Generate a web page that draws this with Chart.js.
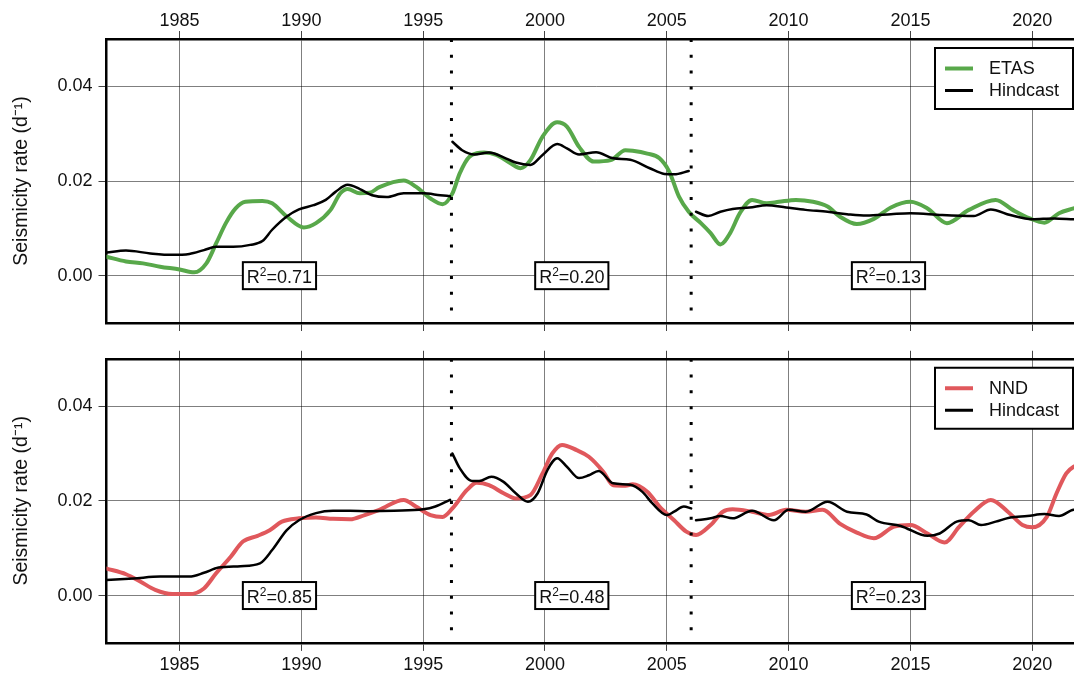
<!DOCTYPE html>
<html>
<head>
<meta charset="utf-8">
<script src="https://cdn.jsdelivr.net/npm/chart.js@4/dist/chart.umd.min.js"></script>
<style>
  html, body { margin: 0; padding: 0; background: #fff; overflow: hidden; width: 1074px; height: 675px; }
  .panel { position: absolute; left: 0; width: 1100px; }
  #wrapTop { top: 0; height: 340px; }
  #wrapBot { top: 340px; height: 335px; }
</style>
</head>
<body>
<div class="panel" id="wrapTop"><canvas id="chartTop"></canvas></div>
<div class="panel" id="wrapBot"><canvas id="chartBot"></canvas></div>
<script>
// ---- data: [year, rate (per day)] ----
const etasRate = [[1982.0,0.0040],[1982.8,0.0030],[1983.5,0.0026],[1984.2,0.0019],[1985.0,0.0013],[1985.6,0.0007],[1986.1,0.0026],[1986.5,0.0068],[1986.9,0.0111],[1987.3,0.0142],[1987.7,0.0156],[1988.4,0.0158],[1988.8,0.0153],[1989.4,0.0125],[1990.1,0.0102],[1990.6,0.0111],[1991.2,0.0139],[1991.6,0.0174],[1991.9,0.0183],[1992.4,0.0174],[1992.8,0.0175],[1993.2,0.0187],[1994.2,0.0201],[1994.7,0.0188],[1995.3,0.0163],[1995.8,0.0151],[1996.2,0.0174],[1996.5,0.0216],[1996.9,0.0251],[1997.5,0.0260],[1998.0,0.0255],[1998.6,0.0237],[1999.0,0.0227],[1999.4,0.0244],[1999.9,0.0294],[2000.5,0.0324],[2000.9,0.0315],[2001.4,0.0272],[2002.0,0.0241],[2002.7,0.0244],[2003.3,0.0265],[2003.6,0.0264],[2004.2,0.0258],[2004.7,0.0248],[2005.1,0.0220],[2005.5,0.0167],[2005.9,0.0135],[2006.4,0.0111],[2006.8,0.0090],[2007.2,0.0066],[2007.6,0.0090],[2008.0,0.0132],[2008.5,0.0160],[2009.1,0.0153],[2009.6,0.0156],[2010.3,0.0160],[2011.0,0.0156],[2011.6,0.0146],[2012.1,0.0125],[2012.8,0.0109],[2013.5,0.0120],[2014.2,0.0144],[2015.0,0.0156],[2015.7,0.0142],[2016.5,0.0111],[2017.4,0.0139],[2018.5,0.0160],[2019.2,0.0139],[2019.9,0.0121],[2020.5,0.0112],[2021.1,0.0132],[2021.7,0.0142],[2022.2,0.0150]];

const hindTop1 = [[1982.0,0.0049],[1982.8,0.0053],[1983.8,0.0047],[1984.7,0.0044],[1985.4,0.0046],[1986.0,0.0054],[1986.5,0.0061],[1987.2,0.0061],[1987.9,0.0065],[1988.4,0.0073],[1988.8,0.0097],[1989.4,0.0125],[1989.9,0.0140],[1990.5,0.0149],[1991.0,0.0160],[1991.4,0.0177],[1991.9,0.0192],[1992.4,0.0183],[1992.9,0.0170],[1993.5,0.0166],[1994.2,0.0174],[1995.0,0.0174],[1995.7,0.0170],[1996.1,0.0168]];
const hindTop2 = [[1996.2,0.0283],[1996.6,0.0265],[1997.1,0.0256],[1997.7,0.0260],[1998.3,0.0250],[1998.8,0.0239],[1999.4,0.0234],[1999.9,0.0255],[2000.5,0.0278],[2000.9,0.0269],[2001.4,0.0256],[2002.1,0.0261],[2002.8,0.0248],[2003.5,0.0245],[2004.3,0.0227],[2004.9,0.0215],[2005.3,0.0214],[2005.9,0.0221]];
const hindTop3 = [[2006.2,0.0135],[2006.7,0.0126],[2007.2,0.0135],[2007.7,0.0141],[2008.4,0.0144],[2009.1,0.0149],[2009.9,0.0144],[2010.7,0.0139],[2011.6,0.0135],[2012.4,0.0130],[2013.2,0.0127],[2014.2,0.0130],[2015.0,0.0132],[2016.3,0.0128],[2017.6,0.0126],[2018.3,0.0140],[2019.1,0.0128],[2020.0,0.0119],[2020.9,0.0121],[2021.7,0.0119],[2022.2,0.0118]];

const nndRate = [[1982.0,0.0057],[1982.8,0.0045],[1983.4,0.0029],[1984.0,0.0012],[1984.7,0.0003],[1985.4,0.0003],[1986.0,0.0015],[1986.5,0.0047],[1987.1,0.0082],[1987.6,0.0114],[1988.2,0.0126],[1988.7,0.0138],[1989.2,0.0156],[1989.9,0.0163],[1990.6,0.0165],[1991.3,0.0162],[1992.0,0.0161],[1992.6,0.0170],[1993.2,0.0181],[1994.2,0.0202],[1994.7,0.0188],[1995.3,0.0170],[1995.8,0.0166],[1996.2,0.0184],[1996.8,0.0223],[1997.2,0.0238],[1997.7,0.0233],[1998.3,0.0216],[1998.8,0.0205],[1999.4,0.0212],[1999.9,0.0258],[2000.3,0.0300],[2000.7,0.0318],[2001.3,0.0307],[2001.8,0.0293],[2002.4,0.0261],[2002.8,0.0233],[2003.3,0.0232],[2003.6,0.0235],[2004.2,0.0219],[2004.7,0.0188],[2005.3,0.0159],[2005.8,0.0135],[2006.2,0.0128],[2006.8,0.0149],[2007.3,0.0177],[2007.7,0.0182],[2008.5,0.0177],[2009.2,0.0170],[2009.9,0.0181],[2010.7,0.0177],[2011.4,0.0181],[2012.1,0.0152],[2012.8,0.0133],[2013.5,0.0121],[2014.3,0.0145],[2015.0,0.0149],[2015.7,0.0131],[2016.4,0.0112],[2017.0,0.0145],[2017.6,0.0177],[2018.3,0.0202],[2019.0,0.0177],[2019.6,0.0149],[2020.0,0.0144],[2020.6,0.0166],[2021.0,0.0216],[2021.4,0.0258],[2021.7,0.0272],[2022.2,0.0280]];

const hindBot1 = [[1982.0,0.0033],[1983.1,0.0036],[1984.2,0.0040],[1985.4,0.0040],[1986.0,0.0048],[1986.6,0.0059],[1987.5,0.0062],[1988.3,0.0068],[1988.8,0.0096],[1989.4,0.0138],[1989.9,0.0159],[1990.6,0.0174],[1991.3,0.0179],[1992.0,0.0179],[1992.8,0.0178],[1993.8,0.0179],[1995.0,0.0182],[1995.5,0.0188],[1996.1,0.0202]];
const hindBot2 = [[1996.2,0.0300],[1996.5,0.0269],[1997.0,0.0242],[1997.3,0.0242],[1997.8,0.0251],[1998.3,0.0240],[1998.8,0.0216],[1999.3,0.0198],[1999.7,0.0216],[2000.1,0.0265],[2000.5,0.0290],[2000.9,0.0272],[2001.4,0.0248],[2001.8,0.0254],[2002.2,0.0263],[2002.8,0.0237],[2003.5,0.0234],[2004.0,0.0219],[2004.4,0.0195],[2005.0,0.0170],[2005.3,0.0177],[2005.7,0.0188],[2006.0,0.0184]];
const hindBot3 = [[2006.2,0.0159],[2006.8,0.0163],[2007.2,0.0168],[2007.7,0.0163],[2008.5,0.0179],[2009.4,0.0159],[2010.0,0.0181],[2010.7,0.0177],[2011.6,0.0198],[2012.4,0.0177],[2013.2,0.0171],[2013.7,0.0156],[2014.6,0.0147],[2015.7,0.0126],[2016.2,0.0131],[2016.9,0.0156],[2017.4,0.0159],[2017.9,0.0149],[2018.5,0.0156],[2019.1,0.0165],[2019.8,0.0168],[2020.5,0.0172],[2021.1,0.0168],[2021.7,0.0181],[2022.2,0.0182]];

const yearTicks = [1985, 1990, 1995, 2000, 2005, 2010, 2015, 2020];
const rateTicks = [0, 0.02, 0.04];
const breakYears = [1996.16, 2006.0];        // dotted separators
const r2Years = [1989.1, 2001.1, 2014.1];     // centre of each period
const r2Top = ['0.71', '0.20', '0.13'];
const r2Bot = ['0.85', '0.48', '0.23'];

const xMin = 1982, xMax = 2022.2, yMin = -0.01, yMax = 0.05;
const GREEN = '#58a84a', RED = '#e0585c', BLACK = '#000';
const FONT = '"Liberation Sans", Arial, Helvetica, sans-serif';
const GRID = 'rgba(0,0,0,0.5)';

const pts = arr => arr.map(p => ({ x: p[0], y: p[1] }));

function lineDs(label, arr, color, width) {
  return { label, data: pts(arr), borderColor: color, borderWidth: width, pointRadius: 0,
    fill: false, cubicInterpolationMode: 'monotone', borderCapStyle: 'round', borderJoinStyle: 'round' };
}
function dotDs(year) {
  return { label: 'break', data: [{ x: year, y: yMax }, { x: year, y: yMin }], borderColor: BLACK,
    borderWidth: 3, borderDash: [3, 12.8], pointRadius: 0, fill: false, tension: 0 };
}

// legend box + R² labels drawn onto the canvas
const panelDecor = {
  id: 'panelDecor',
  afterDatasetsDraw(chart, args, opts) {
    const { ctx, chartArea, scales } = chart;
    ctx.save();
    const big = '18px ' + FONT, small = '12px ' + FONT;
    opts.r2.forEach((val, i) => {
      const cx = scales.x.getPixelForValue(r2Years[i]);
      const cy = scales.y.getPixelForValue(0);
      ctx.font = big; const wR = ctx.measureText('R').width; const wRest = ctx.measureText('=' + val).width;
      ctx.font = small; const w2 = ctx.measureText('2').width;
      const w = wR + w2 + wRest + 8, h = 27;
      ctx.fillStyle = '#fff'; ctx.fillRect(cx - w / 2, cy - h / 2, w, h);
      ctx.lineWidth = 2; ctx.strokeStyle = BLACK; ctx.strokeRect(cx - w / 2, cy - h / 2, w, h);
      ctx.fillStyle = '#111'; ctx.textBaseline = 'alphabetic'; ctx.textAlign = 'left';
      let tx = cx - w / 2 + 4; const base = cy + 7;
      ctx.font = big; ctx.fillText('R', tx, base); tx += wR;
      ctx.font = small; ctx.fillText('2', tx, base - 7); tx += w2;
      ctx.font = big; ctx.fillText('=' + val, tx, base);
    });
    // legend
    const lx = 935, lw = 138, ly = chartArea.top + 9, lh = 61;
    ctx.fillStyle = '#fff'; ctx.fillRect(lx, ly, lw, lh);
    ctx.lineWidth = 2; ctx.strokeStyle = BLACK; ctx.strokeRect(lx, ly, lw, lh);
    ctx.font = big; ctx.textBaseline = 'middle'; ctx.fillStyle = '#111';
    opts.items.forEach((it, i) => {
      const yy = ly + 20.5 + i * 22;
      ctx.beginPath(); ctx.moveTo(lx + 10, yy); ctx.lineTo(lx + 38, yy);
      ctx.strokeStyle = it.color; ctx.lineWidth = it.width; ctx.stroke();
      ctx.fillText(it.label, lx + 54, yy + 1);
    });
    ctx.restore();
  }
};

function makeScales(isTop) {
  const setYears = a => { a.ticks = yearTicks.map(v => ({ value: v })); };
  const border = { color: BLACK, width: 2.5 };
  return {
    x: {
      type: 'linear', position: isTop ? 'top' : 'bottom', min: xMin, max: xMax,
      afterBuildTicks: setYears,
      afterFit: a => { a.height = isTop ? 39 : 32.1; },
      ticks: { font: { family: FONT, size: 18 }, color: '#111', padding: isTop ? -1 : 3, maxRotation: 0, callback: v => String(v) },
      grid: { color: GRID, lineWidth: 1, tickLength: 8, tickColor: '#444' },
      border
    },
    x2: {
      type: 'linear', position: isTop ? 'bottom' : 'top', min: xMin, max: xMax,
      afterBuildTicks: setYears,
      afterFit: a => { a.height = isTop ? 17 : 18.75; },
      ticks: { display: false },
      grid: { drawOnChartArea: false, lineWidth: 1, tickLength: 8, tickColor: '#444' },
      border
    },
    y: {
      type: 'linear', position: 'left', min: yMin, max: yMax,
      afterBuildTicks: a => { a.ticks = rateTicks.map(v => ({ value: v })); },
      afterFit: a => { a.width = 106.5; },
      ticks: { font: { family: FONT, size: 18 }, color: '#111', padding: 6, callback: v => v.toFixed(2) },
      grid: { color: GRID, lineWidth: 1, tickLength: 8, tickColor: '#444' },
      border,
      title: { display: true, text: 'Seismicity rate (d⁻¹)', color: '#111',
        font: { family: FONT, size: 19.5 }, padding: { top: 10, bottom: 0 } }
    }
  };
}

function makeChart(id, isTop, datasets, r2, items) {
  return new Chart(document.getElementById(id), {
    type: 'line',
    data: { datasets },
    options: {
      responsive: true, maintainAspectRatio: false, animation: false, devicePixelRatio: 1,
      layout: { padding: { left: 0, top: 0, bottom: 0, right: 14.2 } },
      scales: makeScales(isTop),
      plugins: { legend: { display: false }, tooltip: { enabled: false }, panelDecor: { r2, items } }
    },
    plugins: [panelDecor]
  });
}

makeChart('chartTop', true, [
  dotDs(breakYears[0]), dotDs(breakYears[1]),
  lineDs('Hindcast', hindTop1, BLACK, 2.5), lineDs('Hindcast', hindTop2, BLACK, 2.5), lineDs('Hindcast', hindTop3, BLACK, 2.5),
  lineDs('ETAS', etasRate, GREEN, 4)
], r2Top, [{ label: 'ETAS', color: GREEN, width: 4 }, { label: 'Hindcast', color: BLACK, width: 3 }]);

makeChart('chartBot', false, [
  dotDs(breakYears[0]), dotDs(breakYears[1]),
  lineDs('Hindcast', hindBot1, BLACK, 2.5), lineDs('Hindcast', hindBot2, BLACK, 2.5), lineDs('Hindcast', hindBot3, BLACK, 2.5),
  lineDs('NND', nndRate, RED, 4)
], r2Bot, [{ label: 'NND', color: RED, width: 4 }, { label: 'Hindcast', color: BLACK, width: 3 }]);
</script>
</body>
</html>
